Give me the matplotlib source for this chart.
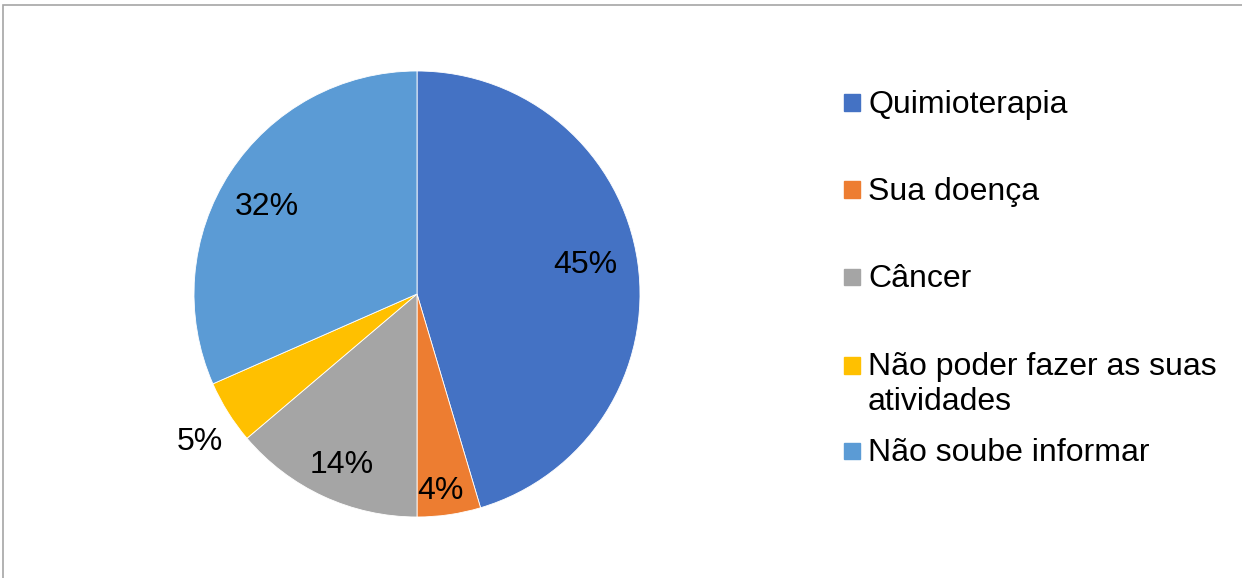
import textwrap
import matplotlib.pyplot as plt
import matplotlib.patches as patches
import numpy as np

plt.rcParams['font.family'] = ['Liberation Sans', 'DejaVu Sans']

# Datos
categorias = ["Quimioterapia", "Sua doença", "Câncer",
              "Não poder fazer as suas atividades", "Não soube informar"]
valores = [45.4, 4.6, 13.8, 4.6, 31.6]
rotulos = ["45%", "4%", "14%", "5%", "32%"]
colores = ["#4472C4", "#ED7D31", "#A5A5A5", "#FFC000", "#5B9BD5"]

W, H = 1242, 578
fig = plt.figure(figsize=(W / 100, H / 100), dpi=100)

# Eje del pastel: centro (417, 294), radio 223 px
cx, cy, r = 417, 294, 223
ax = fig.add_axes([(cx - r) / W, (H - cy - r) / H, 2 * r / W, 2 * r / H])
wedges, _ = ax.pie(valores, colors=colores, startangle=90, counterclock=False,
                   wedgeprops=dict(edgecolor='white', linewidth=0.6))
ax.set_xlim(-1, 1)
ax.set_ylim(-1, 1)
ax.set_aspect('equal')
ax.axis('off')

# Etiquetas de porcentaje (distancia al centro, ajuste de angulo)
distancias = [0.768, 0.872, 0.825, 1.168, 0.784]
ajuste_ang = [2.8, -1.5, 0.7, 1.6, 2.1]
for w, txt, d, da in zip(wedges, rotulos, distancias, ajuste_ang):
    ang = np.deg2rad((w.theta1 + w.theta2) / 2 + da)
    ax.text(d * np.cos(ang), d * np.sin(ang) - 11.5 / r, txt, ha='center',
            va='baseline', fontsize=23, color='black', clip_on=False)

# Leyenda manual (linea base de cada entrada, en px desde arriba)
bases = [113, 200, 287, 375.5, 461]
for cat, col, yb in zip(categorias, colores, bases):
    fig.add_artist(patches.Rectangle((844 / W, 1 - (yb - 2) / H), 16.5 / W, 16.5 / H,
                                     transform=fig.transFigure, color=col))
    for i, linea in enumerate(textwrap.wrap(cat, 23)):
        fig.text(868 / W, 1 - (yb + 35 * i) / H, linea, ha='left', va='baseline',
                 fontsize=23)

# Marco
fig.add_artist(patches.Rectangle((3 / W, -0.05), 1.1, 1 - 5 / H + 0.05,
                                 transform=fig.transFigure, fill=False,
                                 edgecolor='#a6a6a6', linewidth=1.2))

fig.savefig("out.png", dpi=100)
